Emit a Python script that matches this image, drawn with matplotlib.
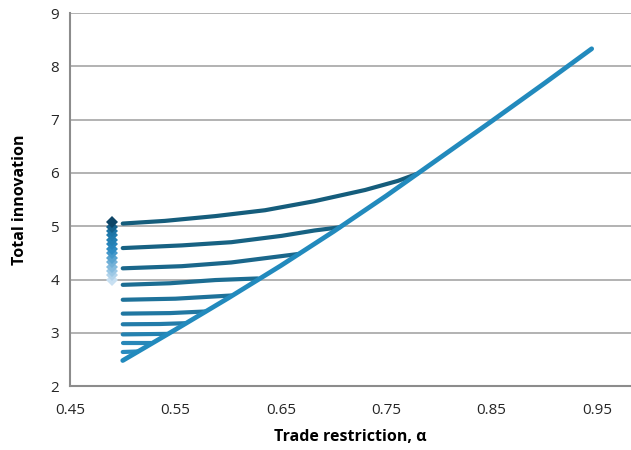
import numpy as np
import matplotlib.pyplot as plt
from matplotlib.colors import LinearSegmentedColormap

plt.rcParams['font.family'] = ['Open Sans', 'DejaVu Sans']

# curves starting at alpha = 0.5 and running into the frontier (top to bottom)
curve_x = [
    [0.50, 0.540, 0.588, 0.635, 0.682, 0.730, 0.761, 0.779],
    [0.50, 0.556, 0.603, 0.651, 0.682, 0.706],
    [0.50, 0.556, 0.603, 0.635, 0.667],
    [0.50, 0.545, 0.588, 0.628],
    [0.50, 0.55, 0.603],
    [0.50, 0.545, 0.578],
    [0.50, 0.535, 0.559],
    [0.50, 0.542],
    [0.50, 0.527],
    [0.50, 0.514],
]
curve_y = [
    [5.05, 5.10, 5.19, 5.30, 5.47, 5.68, 5.85, 5.98],
    [4.59, 4.64, 4.70, 4.82, 4.92, 4.98],
    [4.21, 4.25, 4.32, 4.40, 4.48],
    [3.90, 3.93, 3.99, 4.02],
    [3.62, 3.64, 3.70],
    [3.36, 3.37, 3.40],
    [3.16, 3.165, 3.18],
    [2.97, 2.98],
    [2.80, 2.80],
    [2.64, 2.65],
]

# frontier line
diag_x = [0.50, 0.55, 0.60, 0.65, 0.70, 0.75, 0.80, 0.85, 0.90, 0.945]
diag_y = [2.48, 3.06, 3.65, 4.26, 4.90, 5.57, 6.27, 6.97, 7.68, 8.33]

# diamond markers at alpha = 0.49
dia_x = 0.49
dia_y = [5.07, 4.99, 4.91, 4.83, 4.74, 4.66, 4.58, 4.49, 4.41, 4.33, 4.24, 4.16, 4.08, 4.00]

xticks = [0.45, 0.55, 0.65, 0.75, 0.85, 0.95]
yticks = [2, 3, 4, 5, 6, 7, 8, 9]

fig = plt.figure(figsize=(6.31, 4.5), dpi=100)
ax = fig.add_axes([0.111, 0.142, 0.889, 0.829])

curve_cmap = LinearSegmentedColormap.from_list('c', ['#155d7c', '#2a8cbf'])
for i, (xs, ys) in enumerate(zip(curve_x, curve_y)):
    ax.plot(xs, ys, color=curve_cmap(i / (len(curve_x) - 1)), lw=3.0,
            solid_capstyle='round', solid_joinstyle='round', zorder=3)

ax.plot(diag_x, diag_y, color='#228abd', lw=3.4, solid_capstyle='round',
        solid_joinstyle='round', zorder=4)

dia_cmap = LinearSegmentedColormap.from_list(
    'd', [(0, '#0e4566'), (0.12, '#1a72a3'), (0.45, '#2b8ac2'), (1, '#c8e0f2')])
for i, y in enumerate(dia_y):
    ax.plot(dia_x, y, marker='D', ms=6.5, mew=0,
            color=dia_cmap(i / (len(dia_y) - 1)), zorder=5 + len(dia_y) - i)

ax.set_xlim(0.45, 0.9823)
ax.set_ylim(2, 9)
ax.set_xticks(xticks)
ax.set_xticklabels(['%.2f' % v for v in xticks])
ax.set_yticks(yticks)

ax.grid(axis='y', color='#a6a6a6', lw=1.2)
ax.set_axisbelow(True)
for s in ['top', 'right']:
    ax.spines[s].set_visible(False)
for s in ['left', 'bottom']:
    ax.spines[s].set_color('#8c8c8c')
    ax.spines[s].set_linewidth(1.5)
ax.tick_params(length=0, labelsize=11, colors='#262626', pad=8)
ax.tick_params(axis='x', pad=12)

ax.set_xlabel('Trade restriction, α', fontsize=11.5, fontweight='bold', labelpad=8)
ax.set_ylabel('Total innovation', fontsize=11.5, fontweight='bold', labelpad=16)

fig.savefig('out.png', dpi=100)
